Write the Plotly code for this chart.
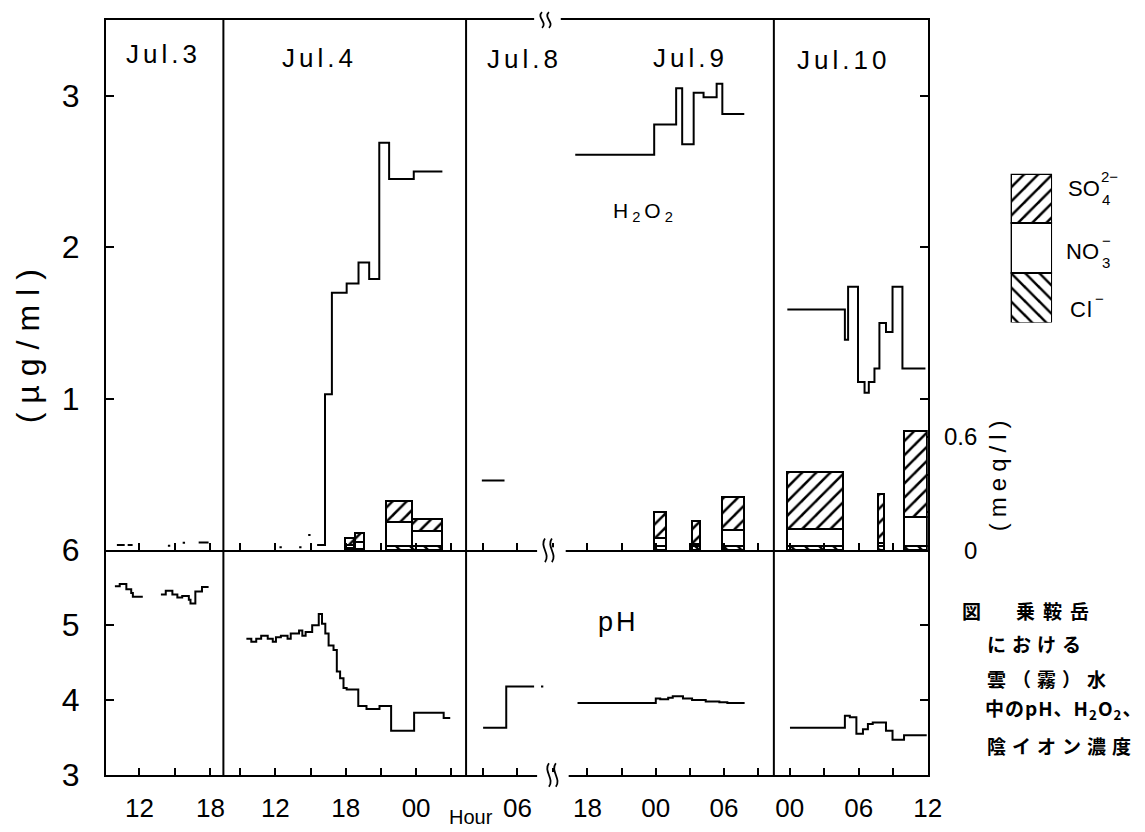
import plotly.graph_objects as go

# ---------------- data ----------------
# Times are hours after 00:00 of each panel's reference day
# (Jul.3, Jul.4, Jul.8, Jul.8, Jul.10); values above 24 run into the next day.

# H2O2 (ug/ml): isolated short readings (start, end, value)
h2o2_jul3_start = [10.09, 11.00, 14.40, 15.65, 17.00]
h2o2_jul3_end = [10.75, 11.42, 14.60, 15.85, 17.84]
h2o2_jul3_val = [0.035, 0.035, 0.03, 0.05, 0.052]

h2o2_jul4_dash_start = [12.35, 14.03, 14.80]
h2o2_jul4_dash_end = [12.55, 14.23, 15.00]
h2o2_jul4_dash_val = [0.02, 0.02, 0.10]

# H2O2 step records: level begins at t[i]; last entry closes the record
h2o2_jul4_t = [15.56, 16.23, 16.82, 18.08, 19.09, 20.00, 20.86, 21.70, 23.80, 26.24]
h2o2_jul4_v = [0.035, 1.03, 1.70, 1.76, 1.90, 1.79, 2.69, 2.45, 2.50, 2.50]

h2o2_jul8_t = [2.91, 4.88]
h2o2_jul8_v = [0.46, 0.46]

h2o2_jul9_t = [16.93, 23.87, 25.80, 26.33, 27.34, 28.21, 29.36, 29.86, 31.79]
h2o2_jul9_v = [2.61, 2.81, 3.05, 2.68, 3.02, 2.99, 3.08, 2.88, 2.88]

h2o2_jul10_t = [-0.20, 4.80, 5.08, 5.94, 6.51, 6.88, 7.37, 7.80, 8.37, 8.94, 9.80, 11.80]
h2o2_jul10_v = [1.59, 1.39, 1.74, 1.11, 1.04, 1.11, 1.20, 1.50, 1.44, 1.74, 1.20, 1.20]

# pH step records (None = no sample)
ph_jul3_t = [9.92, 10.33, 10.89, 11.30, 11.44, 12.28, None,
             13.81, 14.22, 14.78, 15.20, 15.61, 16.17, 16.31, 16.72, 17.28, 17.84]
ph_jul3_v = [5.52, 5.55, 5.48, 5.43, 5.38, 5.38, None,
             5.41, 5.46, 5.41, 5.37, 5.39, 5.34, 5.29, 5.45, 5.51, 5.51]

ph_jul4_t = [9.53, 9.95, 10.37, 10.79, 11.35, 11.78, 12.05, 12.47, 13.04, 13.31,
             14.02, 14.30, 14.58, 15.14, 15.70, 15.98, 16.26, 16.54, 16.96, 17.24,
             17.52, 17.81, 18.08, 19.07, 19.77, 20.88, 21.87, 23.83, 26.35, 26.91]
ph_jul4_v = [4.82, 4.78, 4.82, 4.86, 4.82, 4.78, 4.84, 4.86, 4.82, 4.89,
             4.93, 4.86, 4.91, 5.00, 5.15, 5.02, 4.89, 4.73, 4.67, 4.38,
             4.29, 4.16, 4.14, 3.92, 3.88, 3.92, 3.59, 3.83, 3.76, 3.76]

ph_jul8_t = [3.02, 5.03, 7.45, None, 8.05, 8.25]
ph_jul8_v = [3.63, 4.18, 4.18, None, 4.18, 4.18]

ph_jul9_t = [17.13, 24.01, 24.40, 25.10, 25.50, 26.40, 27.20, 28.40, 29.60, 30.30, 31.82]
ph_jul9_v = [3.96, 4.02, 4.01, 4.03, 4.05, 4.02, 4.00, 3.98, 3.97, 3.96, 3.96]

ph_jul10_t = [0.03, 4.80, 5.23, 5.80, 6.37, 6.80, 7.22, 8.37, 8.94, 9.94, 11.91]
ph_jul10_v = [3.63, 3.79, 3.77, 3.55, 3.61, 3.68, 3.70, 3.59, 3.47, 3.53, 3.53]

# Anion concentrations (meq/l) per sampling interval
ion_jul4_start = [17.91, 18.76, 21.45, 23.69]
ion_jul4_end = [18.67, 19.60, 23.63, 26.21]
cl_jul4 = [0.010, 0.005, 0.020, 0.020]
no3_jul4 = [0.020, 0.040, 0.130, 0.083]
so4_jul4 = [0.033, 0.047, 0.113, 0.064]

ion_jul9_start = [23.87, 27.19, 29.79]
ion_jul9_end = [24.88, 27.91, 31.76]
cl_jul9 = [0.020, 0.020, 0.020]
no3_jul9 = [0.043, 0.015, 0.087]
so4_jul9 = [0.139, 0.118, 0.174]

ion_jul10_start = [-0.20, 7.65, 9.94]
ion_jul10_end = [4.65, 8.23, 11.91]
cl_jul10 = [0.020, 0.020, 0.020]
no3_jul10 = [0.090, 0.017, 0.157]
so4_jul10 = [0.306, 0.260, 0.452]

legend_key_heights = [1, 1, 1]  # Cl-, NO3-, SO4 2- key boxes

# ---------------- geometry ----------------
W, H = 1145, 832
ML, MR, MT, MB = 106, 2, 9, 57
PW, PH = W - ML - MR, H - MT - MB
FONT = "Liberation Sans"
JP_FONT = "Noto Sans CJK JP"


def fx(px):
    return (px - ML) / PW


def fy(py):
    return (H - MB - py) / PH


Y_SPLIT = fy(547)

panels = [
    dict(px=(106, 225), rng=(9.17, 19.09), ticks=[12, 18], labels=["12", "18"]),
    dict(px=(225, 471), rng=(7.57, 28.26), ticks=[12, 18, 24], labels=["12", "18", "00"]),
    dict(px=(471, 557), rng=(1.54, 8.91), ticks=[6], labels=["06"]),
    dict(px=(557, 783), rng=(14.79, 34.39), ticks=[18, 24, 30], labels=["18", "00", "06"]),
    dict(px=(783, 939), rng=(-1.37, 12.0), ticks=[0, 6, 12], labels=["00", "06", "12"]),
]


def ax_key(letter, n):
    return f"{letter}axis" if n == 1 else f"{letter}axis{n}"


fig = go.Figure()
LINE = dict(color="black", width=2)


def add_steps(t, v, xa, ya):
    fig.add_trace(go.Scatter(x=t, y=v, mode="lines", line=dict(LINE, shape="hv"),
                             xaxis=xa, yaxis=ya, hoverinfo="skip", connectgaps=False))


def add_dashes(starts, ends, vals, xa, ya):
    xs, ys = [], []
    for s, e, v in zip(starts, ends, vals):
        xs += [s, e, None]
        ys += [v, v, None]
    fig.add_trace(go.Scatter(x=xs, y=ys, mode="lines", line=LINE,
                             xaxis=xa, yaxis=ya, hoverinfo="skip"))


def bar_marker(shape):
    return dict(color="white", line=dict(color="black", width=2),
                pattern=dict(shape=shape, fgcolor="black", bgcolor="white",
                             fgopacity=1, size=10, solidity=0.25))


def add_ions(start, end, cl, no3, so4, xa, ya="y3"):
    centers = [(s + e) / 2 for s, e in zip(start, end)]
    widths = [e - s for s, e in zip(start, end)]
    for vals, shape in ((cl, "\\"), (no3, ""), (so4, "/")):
        fig.add_trace(go.Bar(x=centers, y=vals, width=widths, xaxis=xa, yaxis=ya,
                             marker=bar_marker(shape), hoverinfo="skip"))


# upper panel: H2O2 lines (x6..x10 / y2) and anion bars (x6..x10 / y3)
add_ions(ion_jul4_start, ion_jul4_end, cl_jul4, no3_jul4, so4_jul4, "x7")
add_ions(ion_jul9_start, ion_jul9_end, cl_jul9, no3_jul9, so4_jul9, "x9")
add_ions(ion_jul10_start, ion_jul10_end, cl_jul10, no3_jul10, so4_jul10, "x10")

add_dashes(h2o2_jul3_start, h2o2_jul3_end, h2o2_jul3_val, "x6", "y2")
add_dashes(h2o2_jul4_dash_start, h2o2_jul4_dash_end, h2o2_jul4_dash_val, "x7", "y2")
add_steps(h2o2_jul4_t, h2o2_jul4_v, "x7", "y2")
add_steps(h2o2_jul8_t, h2o2_jul8_v, "x8", "y2")
add_steps(h2o2_jul9_t, h2o2_jul9_v, "x9", "y2")
add_steps(h2o2_jul10_t, h2o2_jul10_v, "x10", "y2")

# lower panel: pH (x..x5 / y)
add_steps(ph_jul3_t, ph_jul3_v, "x", "y")
add_steps(ph_jul4_t, ph_jul4_v, "x2", "y")
add_steps(ph_jul8_t, ph_jul8_v, "x3", "y")
add_steps(ph_jul9_t, ph_jul9_v, "x4", "y")
add_steps(ph_jul10_t, ph_jul10_v, "x5", "y")

# right-hand mirror axes need a subplot of their own
for xa, ya in (("x5", "y4"), ("x10", "y5")):
    fig.add_trace(go.Scatter(x=[None], y=[None], xaxis=xa, yaxis=ya,
                             mode="lines", hoverinfo="skip"))

# key for the anion hatching
for h, shape in zip(legend_key_heights, ("\\", "", "/")):
    fig.add_trace(go.Bar(x=[0.5], y=[h], width=[1], xaxis="x11", yaxis="y6",
                         marker=bar_marker(shape), hoverinfo="skip"))

layout = dict(
    width=W, height=H, margin=dict(l=ML, r=MR, t=MT, b=MB),
    paper_bgcolor="white", plot_bgcolor="white", showlegend=False,
    barmode="stack", font=dict(family=FONT, color="black"),
)

axis_common = dict(showgrid=False, zeroline=False, showline=True, linecolor="black",
                   linewidth=2, ticks="inside", tickwidth=2, tickcolor="black",
                   fixedrange=True)
minor_x = dict(ticks="inside", dtick=3, tick0=0, ticklen=7, tickwidth=2,
               tickcolor="black", showgrid=False)

for i, p in enumerate(panels, start=1):
    dom = [fx(p["px"][0]), fx(p["px"][1])]
    layout[ax_key("x", i)] = dict(axis_common, domain=dom, range=list(p["rng"]),
                                 anchor="y", tickmode="array", tickvals=p["ticks"],
                                 ticktext=p["labels"], ticklen=7, minor=minor_x,
                                 tickfont=dict(size=26), ticklabelstandoff=9)
    layout[ax_key("x", i + 5)] = dict(axis_common, domain=dom, range=list(p["rng"]),
                                     anchor="y2", tickmode="linear", tick0=0, dtick=3,
                                     ticklen=7, showticklabels=False, mirror=True)

layout["xaxis11"] = dict(domain=[fx(1023), fx(1065)], range=[0, 1], visible=False,
                         anchor="y6", fixedrange=True)
layout["yaxis6"] = dict(domain=[fy(316), fy(165)], range=[0, 3], visible=False,
                        anchor="x11", fixedrange=True)

layout["yaxis"] = dict(axis_common, domain=[0, Y_SPLIT], range=[3, 6], anchor="x",
                       tickvals=[3, 4, 5, 6], ticktext=["3", "4", "5", "6"], ticklen=8,
                       tickfont=dict(size=32), ticklabelstandoff=18)
layout["yaxis2"] = dict(axis_common, domain=[Y_SPLIT, 1], range=[0, 3.5], anchor="x6",
                        tickvals=[1, 2, 3], ticklen=8, tickfont=dict(size=32),
                        ticklabelstandoff=18)
layout["yaxis3"] = dict(axis_common, domain=[Y_SPLIT, 1], range=[0, 2.806],
                        overlaying="y2", side="right", anchor="x10",
                        tickvals=[0.2, 0.4, 0.6], ticklen=7, showticklabels=False)
layout["yaxis4"] = dict(axis_common, domain=[0, Y_SPLIT], range=[3, 6],
                        overlaying="y", side="right", anchor="x5",
                        tickvals=[4, 5], ticklen=8, showticklabels=False)
layout["yaxis5"] = dict(axis_common, domain=[Y_SPLIT, 1], range=[0, 3.5],
                        overlaying="y2", side="right", anchor="x10",
                        tickvals=[1, 2, 3], ticklen=8, showticklabels=False)

# ---------------- frame decorations ----------------
shapes = []
for px in (225, 471, 783):
    shapes.append(dict(type="line", xref="paper", yref="paper", x0=fx(px), x1=fx(px),
                       y0=0, y1=1, line=dict(color="black", width=2)))


def wiggle(xc, yc, h):
    return (f"M {fx(xc)},{fy(yc - h)} C {fx(xc - 6)},{fy(yc - h / 3)} "
            f"{fx(xc + 6)},{fy(yc + h / 3)} {fx(xc)},{fy(yc + h)}")


for (g0, g1, yc, xs, h) in ((540, 567, 9, (548, 555), 8),
                            (543, 572, 547, (551, 558), 12),
                            (543, 575, 775, (555, 562), 12)):
    shapes.append(dict(type="rect", xref="paper", yref="paper", x0=fx(g0), x1=fx(g1),
                       y0=fy(yc + 3), y1=fy(yc - 3), fillcolor="white",
                       line=dict(width=0), layer="above"))
    for xc in xs:
        shapes.append(dict(type="path", xref="paper", yref="paper",
                           path=wiggle(xc, yc, h), line=dict(color="black", width=1.8)))
layout["shapes"] = shapes


def spaced(text, gap):
    return f'<span style="letter-spacing:{gap}px">{text}</span>' if gap else text


annotations = []


def label(text, px, py, size, xanchor="center", angle=0, gap=0, family=FONT,
          yref="paper", yval=None, bold=False):
    t = spaced(text, gap)
    if bold:
        t = f"<b>{t}</b>"
    annotations.append(dict(
        text=t, x=fx(px), xref="paper",
        y=fy(py) if yval is None else yval, yref=yref,
        xanchor=xanchor, yanchor="middle", showarrow=False, textangle=angle,
        font=dict(size=size, family=family, color="black")))


for name, px, py in (("Jul.3", 164, 43), ("Jul.4", 322, 48), ("Jul.8", 530, 49),
                     ("Jul.9", 699, 48), ("Jul.10", 854, 50)):
    label(name, px, py, 26, gap=4)

label("H<sub>2</sub>O<sub>2</sub>", 652, 204, 21, gap=4)
label("pH", 626, 620, 27, gap=3)
label("(µg/ml)", 27, 336, 32, angle=-90, gap=9)
label("(meq/l)", 1010, 468, 24, angle=-90, gap=6)
label("0.6", 991, 0, 24, xanchor="right", yref="y3", yval=0.6)
label("0", 991, 0, 24, xanchor="right", yref="y3", yval=0)
label("Hour", 476, 818, 20)

# key labels
label("SO", 1079, 180, 22, xanchor="left")
label("4", 1114, 191, 15, xanchor="left")
label("2−", 1113, 168, 15, xanchor="left")
label("NO", 1077, 244, 22, xanchor="left")
label("3", 1114, 255, 15, xanchor="left")
label("−", 1114, 233, 15, xanchor="left")
label("Cl", 1081, 303, 22, xanchor="left", gap=1)
label("−", 1107, 292, 15, xanchor="left")

# caption
label("図　乗鞍岳", 972, 608, 19, xanchor="left", gap=8, family=JP_FONT, bold=True)
label("における", 997, 642, 19, xanchor="left", gap=6, family=JP_FONT, bold=True)
label("雲（霧）水", 997, 677, 19, xanchor="left", gap=6, family=JP_FONT, bold=True)
label("中のpH、H<sub>2</sub>O<sub>2</sub>、", 995, 708, 19, xanchor="left", gap=1,
      family=JP_FONT, bold=True)
label("陰イオン濃度", 997, 745, 19, xanchor="left", gap=6, family=JP_FONT, bold=True)

layout["annotations"] = annotations
fig.update_layout(**layout)
fig.write_html("out.html")
